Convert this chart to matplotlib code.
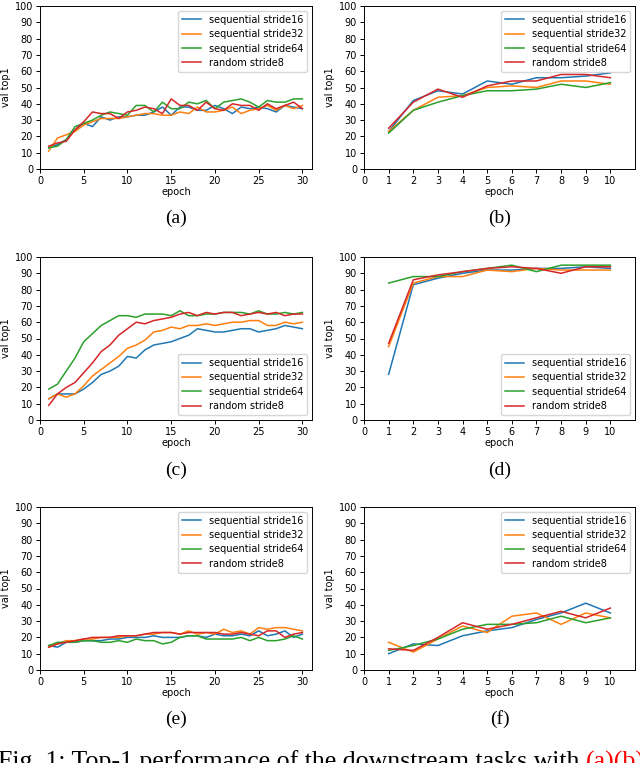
import numpy as np
import matplotlib
matplotlib.use("Agg")
import matplotlib.pyplot as plt

labels = ['sequential stride16', 'sequential stride32', 'sequential stride64', 'random stride8']
colors = ['#1f77b4', '#ff7f0e', '#2ca02c', '#d62728']

ep30 = np.arange(1, 31)
ep10 = np.arange(1, 11)

# (a)
a_s16 = [13, 15, 18, 24, 28, 26, 32, 30, 32, 32, 33, 33, 35, 38, 33, 38, 38, 36, 36, 39, 37, 34, 38, 37, 38, 37, 35, 39, 38, 37]
a_s32 = [11, 19, 21, 23, 27, 29, 31, 31, 31, 32, 33, 34, 34, 33, 33, 35, 34, 38, 35, 35, 36, 38, 34, 36, 37, 39, 36, 39, 37, 39]
a_s64 = [13, 14, 18, 26, 28, 30, 33, 35, 34, 33, 39, 39, 35, 41, 37, 37, 41, 40, 42, 37, 41, 42, 43, 41, 38, 42, 41, 41, 43, 43]
a_rs8 = [14, 16, 17, 24, 29, 35, 34, 34, 31, 35, 36, 38, 37, 34, 43, 39, 39, 36, 41, 37, 36, 40, 39, 39, 36, 40, 37, 39, 41, 37]

# (b)
b_s16 = [23, 42, 48, 46, 54, 52, 56, 56, 57, 59]
b_s32 = [23, 36, 44, 45, 50, 51, 50, 54, 54, 52]
b_s64 = [22, 36, 41, 45, 48, 48, 49, 52, 50, 53]
b_rs8 = [25, 41, 49, 44, 51, 54, 54, 58, 58, 56]

# (c)
c_s16 = [13, 16, 16, 16, 19, 23, 28, 30, 33, 39, 38, 43, 46, 47, 48, 50, 52, 56, 55, 54, 54, 55, 56, 56, 54, 55, 56, 58, 57, 56]
c_s32 = [13, 16, 14, 16, 21, 27, 31, 35, 39, 44, 46, 49, 54, 55, 57, 56, 58, 58, 59, 58, 59, 60, 60, 61, 61, 58, 58, 60, 59, 60]
c_s64 = [19, 22, 30, 38, 48, 53, 58, 61, 64, 64, 63, 65, 65, 65, 64, 67, 64, 64, 65, 65, 66, 66, 66, 65, 67, 65, 65, 66, 65, 66]
c_rs8 = [9, 16, 20, 23, 29, 35, 42, 46, 52, 56, 60, 59, 61, 62, 63, 65, 66, 64, 66, 65, 66, 66, 64, 65, 66, 65, 66, 64, 65, 65]

# (d)
d_s16 = [28, 83, 87, 90, 92, 92, 93, 93, 94, 93]
d_s32 = [45, 84, 88, 88, 92, 91, 93, 92, 92, 92]
d_s64 = [84, 88, 88, 91, 93, 95, 91, 95, 95, 95]
d_rs8 = [47, 86, 89, 91, 93, 94, 93, 90, 94, 94]

# (e)
e_s16 = [15, 14, 17, 17, 18, 18, 18, 19, 19, 20, 20, 20, 21, 20, 20, 20, 21, 21, 20, 22, 21, 21, 22, 21, 24, 21, 22, 24, 20, 22]
e_s32 = [14, 16, 18, 18, 19, 19, 20, 20, 20, 21, 21, 22, 22, 23, 23, 22, 24, 22, 23, 22, 25, 23, 24, 22, 26, 25, 26, 26, 25, 24]
e_s64 = [15, 17, 17, 17, 18, 18, 17, 17, 18, 17, 19, 18, 18, 16, 17, 20, 21, 21, 19, 19, 19, 19, 20, 18, 20, 18, 18, 19, 21, 19]
e_rs8 = [14, 16, 17, 18, 19, 20, 20, 20, 21, 21, 21, 22, 23, 23, 23, 22, 23, 23, 23, 23, 22, 22, 23, 22, 21, 24, 24, 20, 22, 23]

# (f)
f_s16 = [10, 16, 15, 21, 24, 26, 31, 35, 41, 35]
f_s32 = [17, 11, 19, 27, 23, 33, 35, 28, 35, 32]
f_s64 = [12, 15, 19, 25, 28, 28, 29, 33, 29, 32]
f_rs8 = [13, 12, 20, 29, 25, 28, 32, 36, 32, 38]

panels = [
    ('(a)', ep30, [a_s16, a_s32, a_s64, a_rs8], 'upper right'),
    ('(b)', ep10, [b_s16, b_s32, b_s64, b_rs8], 'upper right'),
    ('(c)', ep30, [c_s16, c_s32, c_s64, c_rs8], 'lower right'),
    ('(d)', ep10, [d_s16, d_s32, d_s64, d_rs8], 'lower right'),
    ('(e)', ep30, [e_s16, e_s32, e_s64, e_rs8], 'upper right'),
    ('(f)', ep10, [f_s16, f_s32, f_s64, f_rs8], 'upper right'),
]

fig = plt.figure(figsize=(6.4, 7.63), dpi=100)
W, H = 640.0, 763.0
lefts = [40, 364]
rows = [(6, 169), (257, 420), (507, 670)]
cap_y = [218, 470, 719]

fs = 7.0
for i, (cap, ep, series, loc) in enumerate(panels):
    r, c = divmod(i, 2)
    top, bot = rows[r]
    x0 = lefts[c]
    x1 = 312 if c == 0 else 635
    ax = fig.add_axes([x0 / W, 1 - bot / H, (x1 - x0) / W, (bot - top) / H])
    for s, lab, col in zip(series, labels, colors):
        ax.plot(ep, s, color=col, lw=1.1, label=lab)
    ax.set_ylim(0, 100)
    ax.set_yticks(range(0, 101, 10))
    if len(ep) == 30:
        ax.set_xlim(0, 31.1)
        ax.set_xticks(range(0, 31, 5))
    else:
        ax.set_xlim(0, 11)
        ax.set_xticks(range(0, 11))
    ax.tick_params(labelsize=fs, length=3, width=0.7, pad=2)
    for sp in ax.spines.values():
        sp.set_linewidth(0.7)
    ax.set_xlabel('epoch', fontsize=fs, labelpad=1)
    ax.set_ylabel('val top1', fontsize=fs, labelpad=3)
    ax.legend(loc=loc, fontsize=fs, handlelength=2.0, borderpad=0.4, labelspacing=0.45)
    fig.text((x0 + x1) / 2 / W, 1 - cap_y[r] / H, cap, ha='center', va='center',
             fontsize=14, family='Liberation Serif')

y_cap = -0.007
t = fig.text(-0.003, y_cap, 'Fig. 1: Top-1 performance of the downstream tasks with ',
             ha='left', va='baseline', fontsize=18.6, family='Liberation Serif')
fig.canvas.draw()
bb = t.get_window_extent()
fig.text(bb.x1 / W, y_cap, '(a)(b)', ha='left', va='baseline', fontsize=18.6,
         family='Liberation Serif', color='red')

fig.savefig('out.png', dpi=100)
